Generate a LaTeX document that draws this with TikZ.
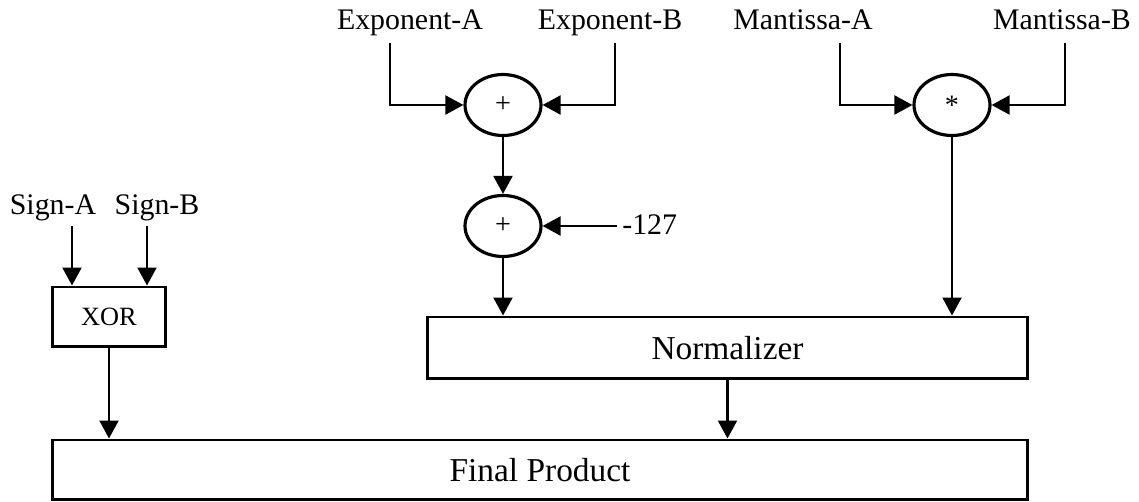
\documentclass[tikz,border=0pt]{standalone}
\usepackage{fontspec}
\setmainfont{Liberation Serif}
\usetikzlibrary{arrows.meta,shapes.geometric}
\begin{document}
\begin{tikzpicture}[x=0.02cm,y=-0.02cm,
  arr/.style={line width=1.2pt,-{Triangle[length=0.36cm,width=0.38cm]}},
  lbl/.style={font=\fontsize{17}{20}\selectfont,inner sep=0pt,anchor=base},
  op/.style={ellipse,draw,line width=1.8pt,minimum width=1.52cm,minimum height=1.22cm,inner sep=0pt,font=\fontsize{16}{18}\selectfont},
  blk/.style={rectangle,draw,line width=1.7pt,inner sep=0pt}]
\useasboundingbox (0,0) rectangle (1139,502);
% labels
\node[lbl] (expA) at (410,30) {Exponent-A};
\node[lbl] (expB) at (610,30) {Exponent-B};
\node[lbl] (manA) at (803,30) {Mantissa-A};
\node[lbl] (manB) at (1062,30) {Mantissa-B};
\node[lbl] (signA) at (53,215) {Sign-A};
\node[lbl] (signB) at (157,215) {Sign-B};
\node[lbl,anchor=base west] (m127) at (622,235) {-127};
% operators
\node[op] (e1) at (503,105) {+};
\node[op] (e2) at (503,226) {+};
\node[op] (e3) at (952,105) {*};
% blocks
\node[blk,minimum width=2.28cm,minimum height=1.2cm,font=\fontsize{15}{18}\selectfont] (xor) at (109,317) {XOR};
\node[blk,minimum width=12.02cm,minimum height=1.24cm,font=\fontsize{19}{22}\selectfont] (norm) at (727.5,348) {Normalizer};
\node[blk,minimum width=19.52cm,minimum height=1.2cm,font=\fontsize{19}{22}\selectfont] (final) at (540,470) {Final Product};
% connector start points
\coordinate (cA) at (390,43);
\coordinate (cB) at (615,43);
\coordinate (cMA) at (840,43);
\coordinate (cMB) at (1065,43);
\coordinate (c127) at (617,226);
\coordinate (sA) at (72,226);
\coordinate (sB) at (147,226);
% connectors
\draw[arr] (cA) |- (e1.west);
\draw[arr] (cB) |- (e1.east);
\draw[arr] (cMA) |- (e3.west);
\draw[arr] (cMB) |- (e3.east);
\draw[arr] (e1.south) -- (e2.north);
\draw[arr] (c127) -- (e2.east);
\draw[arr] (e2.south) -- (e2.south |- norm.north);
\draw[arr] (e3.south) -- (e3.south |- norm.north);
\draw[arr] (sA) -- (sA |- xor.north);
\draw[arr] (sB) -- (sB |- xor.north);
\draw[arr] (xor.south) -- (xor.south |- final.north);
\draw[arr] (norm.south) -- (norm.south |- final.north);
\end{tikzpicture}
\end{document}
